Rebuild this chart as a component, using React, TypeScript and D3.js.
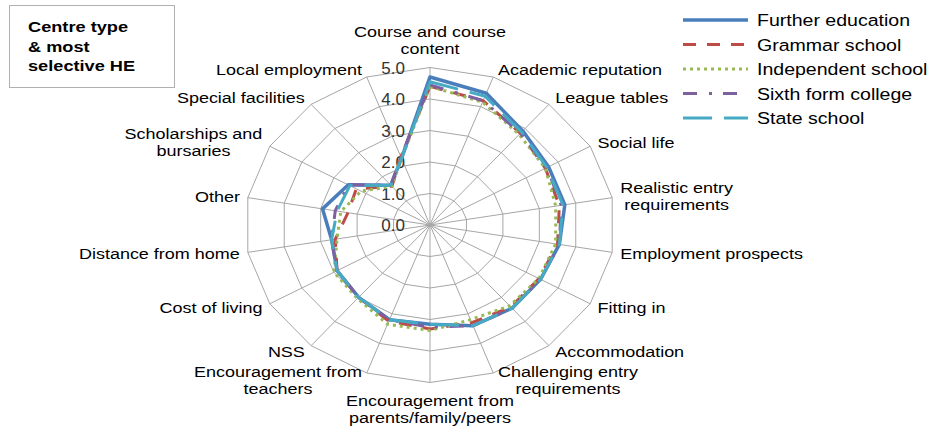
import * as d3 from 'd3';
import { useEffect, useRef } from 'react';

const categories = [
  "Course and course\ncontent",
  "Academic reputation",
  "League tables",
  "Social life",
  "Realistic entry\nrequirements",
  "Employment prospects",
  "Fitting in",
  "Accommodation",
  "Challenging entry\nrequirements",
  "Encouragement from\nparents/family/peers",
  "Encouragement from\nteachers",
  "NSS",
  "Cost of living",
  "Distance from home",
  "Other",
  "Scholarships and\nbursaries",
  "Special facilities",
  "Local employment",
];

const seriesNames = ["Further education", "Grammar school", "Independent school", "Sixth form college", "State school"];

const furtherEducation = [4.7, 4.45, 3.9, 3.7, 3.7, 3.55, 3.45, 3.45, 3.4, 3.15, 3.2, 3.0, 2.9, 2.7, 2.95, 2.55, 1.65, 2.25];
const grammarSchool = [4.4, 4.2, 3.8, 3.6, 3.55, 3.5, 3.4, 3.4, 3.3, 3.3, 3.25, 3.0, 2.9, 2.6, 2.25, 2.3, 1.6, 2.3];
const independentSchool = [4.4, 4.15, 3.75, 3.6, 3.45, 3.45, 3.4, 3.35, 3.2, 3.35, 3.35, 3.05, 3.0, 2.55, 2.45, 2.15, 1.6, 2.25];
const sixthFormCollege = [4.45, 4.2, 3.8, 3.65, 3.6, 3.55, 3.45, 3.45, 3.4, 3.25, 3.2, 3.0, 2.9, 2.7, 2.6, 2.55, 1.65, 2.3];
const stateSchool = [4.55, 4.35, 3.85, 3.65, 3.65, 3.55, 3.45, 3.45, 3.4, 3.15, 3.2, 3.0, 2.9, 2.7, 2.55, 2.5, 1.65, 2.25];

const tickValues = [0, 1, 2, 3, 4, 5];
const tickLabels = ["0.0", "1.0", "2.0", "3.0", "4.0", "5.0"];

const titleLines = ["Centre type", "& most", "selective HE"];

export default function App() {
  const ref = useRef<SVGSVGElement>(null);

  useEffect(() => {
    const svg = d3.select(ref.current);
    svg.selectAll("*").remove();

    const width = 930, height = 428;
    const cx = 430, cy = 225;
    const font = "'Liberation Sans', Arial, sans-serif";

    const xr = d3.scaleLinear().domain([0, 5]).range([0, 185]);
    const yr = d3.scaleLinear().domain([0, 5]).range([0, 157.5]);
    const angle = d3.scalePoint<number>().domain(d3.range(categories.length)).range([0, 2 * Math.PI * (categories.length - 1) / categories.length]);

    const px = (i: number, v: number) => cx + xr(v) * Math.sin(angle(i)!);
    const py = (i: number, v: number) => cy - yr(v) * Math.cos(angle(i)!);

    const idx = d3.range(categories.length);
    const ring = d3.line<number>().curve(d3.curveLinearClosed);

    svg.attr("width", width).attr("height", height);
    svg.append("rect").attr("width", width).attr("height", height).attr("fill", "#fff");

    // grid
    const grid = svg.append("g").attr("stroke", "#a6a6a6").attr("stroke-width", 1).attr("fill", "none");
    tickValues.filter(t => t > 0).forEach(t => {
      grid.append("path").attr("d", ring(idx.map(i => [px(i, t), py(i, t)]) as any));
    });
    idx.forEach(i => {
      grid.append("line")
        .attr("x1", cx).attr("y1", cy)
        .attr("x2", px(i, 5)).attr("y2", py(i, 5));
    });

    // tick labels
    svg.append("g").selectAll("text").data(tickValues).enter().append("text")
      .attr("x", cx - 25)
      .attr("y", d => cy - yr(d) + 6)
      .attr("text-anchor", "end")
      .style("font-family", font)
      .style("font-size", "17px")
      .attr("fill", "#333")
      .text((d, i) => tickLabels[i]);

    // category labels
    const labelG = svg.append("g");
    const labelScale = 1.2, lh = 17, fs = 15;
    categories.forEach((c, i) => {
      const a = angle(i)!;
      const s = Math.sin(a), co = Math.cos(a);
      const lines = c.split("\n");
      const h = lines.length * lh;
      const ox = px(i, 5), oy = py(i, 5);
      const g = labelG.append("g");
      const texts = lines.map(l => g.append("text")
        .attr("text-anchor", "middle")
        .style("font-family", font)
        .style("font-size", fs + "px")
        .attr("fill", "#000")
        .text(l));
      const widths = texts.map(t => (t.node() as SVGTextElement).getComputedTextLength() * labelScale);
      const bw = d3.max(widths) || 0;
      let centerX: number, centerY: number;
      if (Math.abs(s) < 0.01) {
        centerX = ox;
        centerY = oy - co * (10 + h / 2);
      } else {
        const dx = 3 + 5 * Math.abs(s);
        centerX = s > 0 ? ox + dx + bw / 2 : ox - dx - bw / 2;
        centerY = oy - 8 * co;
      }
      texts.forEach((t, k) => {
        const y = centerY - h / 2 + lh * k + lh / 2 + fs * 0.35;
        t.attr("transform", `translate(${centerX},${y}) scale(${labelScale},1)`);
      });
    });

    // series
    const series = [
      { name: seriesNames[0], values: furtherEducation, color: "#4a7ebb", dash: null, w: 3.5 },
      { name: seriesNames[1], values: grammarSchool, color: "#be4b48", dash: "13,11", w: 3 },
      { name: seriesNames[2], values: independentSchool, color: "#98b954", dash: "3,4", w: 3 },
      { name: seriesNames[3], values: sixthFormCollege, color: "#7d60a0", dash: "14,12,3,11", w: 3 },
      { name: seriesNames[4], values: stateSchool, color: "#46aac5", dash: "29,12", w: 3 },
    ];

    const line = d3.line<number>()
      .x((v, i) => px(i, v))
      .y((v, i) => py(i, v))
      .curve(d3.curveLinearClosed);

    svg.append("g").selectAll("path").data(series).enter().append("path")
      .attr("d", d => line(d.values))
      .attr("fill", "none")
      .attr("stroke", d => d.color)
      .attr("stroke-width", d => d.w)
      .attr("stroke-dasharray", d => d.dash)
      .attr("stroke-linejoin", "round");

    // legend
    const legend = svg.append("g");
    series.forEach((d, i) => {
      const y = 20 + i * 24.5;
      legend.append("line")
        .attr("x1", 683).attr("x2", 748).attr("y1", y).attr("y2", y)
        .attr("stroke", d.color).attr("stroke-width", d.w)
        .attr("stroke-dasharray", d.dash);
      legend.append("text")
        .attr("transform", `translate(757,${y + 6}) scale(1.15,1)`)
        .style("font-family", font)
        .style("font-size", "17px")
        .attr("fill", "#000")
        .text(d.name);
    });

    // title box
    svg.append("rect")
      .attr("x", 9.5).attr("y", 5.5).attr("width", 165).attr("height", 82)
      .attr("fill", "#fff").attr("stroke", "#b0b0b0");
    titleLines.forEach((t, i) => {
      svg.append("text")
        .attr("transform", `translate(28,${32 + i * 19.5}) scale(1.3,1)`)
        .style("font-family", font)
        .style("font-size", "14px")
        .style("font-weight", "bold")
        .attr("fill", "#000")
        .text(t);
    });
  }, []);

  return <svg ref={ref} style={{ position: "absolute", left: 0, top: 0, display: "block" }}></svg>;
}
